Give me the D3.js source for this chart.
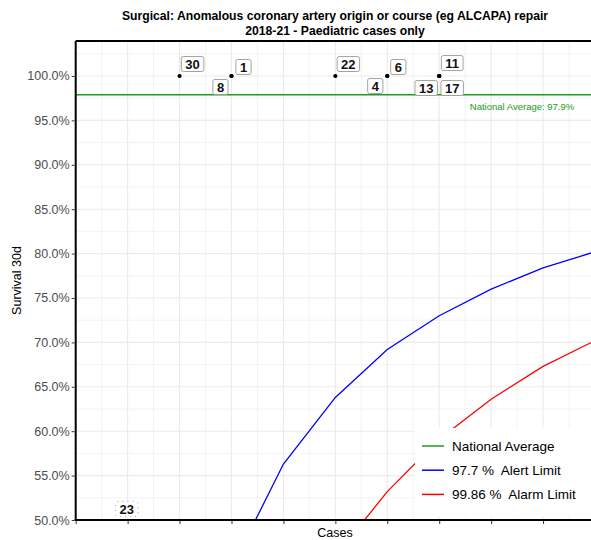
<!DOCTYPE html>
<html><head><meta charset="utf-8">
<script src="https://cdn.jsdelivr.net/npm/d3@7"></script>
<style>body{margin:0;background:#fff;} svg{display:block;font-family:"Liberation Sans",Arial,sans-serif;} text{white-space:pre;}</style>
</head><body>
<div id="chart"></div>
<script>
// ---- data ----
const hospitalLabels = ["30","1","8","22","6","4","11","13","17","23"];
const hospitalCases  = [2,3,3,5,6,6,7,7,7,1];
const hospitalSurvival = [100,100,100,100,100,100,100,100,100,0];
// repel offsets of each label from its point (pixels)
const labelNudge = [[13,-12],[12,-9],[-11,11],[13,-12],[11,-9],[-12,10],[13,-13],[-13,12],[13,12],[-1,0]];

const limitCases = [3,4,5,6,7,8,9,10];
const alertLimit = [44.6,56.3,63.8,69.2,73.0,76.0,78.4,80.2];
const alarmCases = [5,6,7,8,9,10];
const alarmLimit = [45.9,53.2,59.1,63.6,67.3,70.2];
const nationalAverage = 97.9;

const yTicks = [50,55,60,65,70,75,80,85,90,95,100];
const xTicks = [0,1,2,3,4,5,6,7,8,9,10];
const legendLabels = ["National Average","97.7 %  Alert Limit","99.86 %  Alarm Limit"];
const legendColors = ["#229922","blue","red"];
const titleLines = ["Surgical: Anomalous coronary artery origin or course (eg ALCAPA) repair","2018-21 - Paediatric cases only"];

// ---- layout ----
const W = 591, H = 540;
const m = {left:75.7, top:41, right:595, bottom:520};
const svg = d3.select("#chart").append("svg").attr("width",W).attr("height",H);

const x = d3.scaleLinear().domain([0,10]).range([m.left,m.right]);
const y = d3.scaleLinear().domain([50,103.94]).range([m.bottom,m.top]);

const defs = svg.append("defs");
defs.append("clipPath").attr("id","clip").append("rect")
  .attr("x",m.left).attr("y",m.top).attr("width",m.right-m.left).attr("height",m.bottom-m.top);

// grid
const grid = svg.append("g");
const minorY = d3.range(52.5,104,5);
const minorX = d3.range(0.5,10,1);
grid.selectAll(".gy").data(minorY.concat(yTicks)).enter().append("line")
  .attr("x1",m.left).attr("x2",m.right).attr("y1",d=>y(d)).attr("y2",d=>y(d))
  .attr("stroke","#ebebeb").attr("stroke-width",d=>d%5===0?1.1:0.6);
grid.selectAll(".gx").data(minorX.concat(xTicks)).enter().append("line")
  .attr("y1",m.top).attr("y2",m.bottom).attr("x1",d=>x(d)).attr("x2",d=>x(d))
  .attr("stroke","#ebebeb").attr("stroke-width",d=>Number.isInteger(d)?1.1:0.6);

const plot = svg.append("g").attr("clip-path","url(#clip)");

// national average
plot.append("line").attr("x1",m.left).attr("x2",m.right)
  .attr("y1",y(nationalAverage)).attr("y2",y(nationalAverage))
  .attr("stroke","#229922").attr("stroke-width",1.5);

const line = d3.line().x(d=>x(d[0])).y(d=>y(d[1]));
plot.append("path").datum(limitCases.map((c,i)=>[c,alertLimit[i]]))
  .attr("d",line).attr("fill","none").attr("stroke","blue").attr("stroke-width",1.3);
plot.append("path").datum(alarmCases.map((c,i)=>[c,alarmLimit[i]]))
  .attr("d",line).attr("fill","none").attr("stroke","red").attr("stroke-width",1.3);

svg.append("text").attr("x",x(9.6)).attr("y",y(nationalAverage)+15)
  .attr("text-anchor","end").attr("font-size",9.5).attr("fill","#229922")
  .text("National Average: "+nationalAverage+"%");

// points
plot.selectAll(".pt").data(hospitalCases.map((c,i)=>[c,hospitalSurvival[i]]))
  .enter().append("circle").attr("cx",d=>x(d[0])).attr("cy",d=>y(d[1])).attr("r",2.1).attr("fill","#000");

// labels
const clampY = v => Math.min(Math.max(v, m.top+10), m.bottom-11);
hospitalLabels.forEach((lab,i)=>{
  const px = x(hospitalCases[i]) + labelNudge[i][0];
  const py = clampY(y(hospitalSurvival[i]) + labelNudge[i][1]);
  const g = svg.append("g").attr("transform",`translate(${px},${py})`);
  const t = g.append("text").attr("text-anchor","middle").attr("dy","0.36em")
    .attr("font-size",13).attr("font-weight","bold").attr("fill","#111").text(lab);
  const bw = t.node().getComputedTextLength()+8;
  g.insert("rect","text").attr("x",-bw/2).attr("y",-7.5).attr("width",bw).attr("height",15)
    .attr("rx",2).attr("fill","#fff").attr("stroke",hospitalSurvival[i]<50?"#999":"#999")
    .attr("stroke-width",0.9).attr("stroke-dasharray",hospitalSurvival[i]<50?"1,4":null);
});

// panel border & axes
svg.append("line").attr("x1",m.left).attr("x2",m.right).attr("y1",m.top).attr("y2",m.top)
  .attr("stroke","#000").attr("stroke-width",2);
svg.append("line").attr("x1",m.left).attr("x2",m.left).attr("y1",m.top).attr("y2",m.bottom)
  .attr("stroke","#000").attr("stroke-width",2);
svg.append("line").attr("x1",m.left-1).attr("x2",m.right).attr("y1",m.bottom).attr("y2",m.bottom)
  .attr("stroke","#000").attr("stroke-width",2);

const yAxis = svg.append("g").attr("transform",`translate(${m.left-1},0)`)
  .call(d3.axisLeft(y).tickValues(yTicks).tickSize(3).tickPadding(2).tickFormat(d=>d.toFixed(1)+"%"));
yAxis.select(".domain").remove();
yAxis.selectAll("text").attr("font-size",12.5).attr("fill","#4d4d4d").attr("font-family","Liberation Sans, Arial, sans-serif");
yAxis.selectAll("line").attr("stroke","#333");

const xAxis = svg.append("g").attr("transform",`translate(0,${m.bottom+1})`)
  .call(d3.axisBottom(x).tickValues(xTicks).tickSize(3).tickFormat(""));
xAxis.select(".domain").remove();
xAxis.selectAll("line").attr("stroke","#333");

// titles
svg.append("text").attr("x",335).attr("y",537).attr("text-anchor","middle").attr("font-size",12.5).text("Cases");
svg.append("text").attr("transform",`translate(21,${(m.top+m.bottom)/2}) rotate(-90)`)
  .attr("text-anchor","middle").attr("font-size",12.5).text("Survival 30d");
titleLines.forEach((t,i)=>svg.append("text").attr("x",335).attr("y",20+i*15)
  .attr("text-anchor","middle").attr("font-size",12.2).attr("font-weight","bold").text(t));

// legend
const lg = svg.append("g");
lg.append("rect").attr("x",415).attr("y",428).attr("width",176).attr("height",88).attr("fill","#fff");
legendLabels.forEach((l,i)=>{
  const cy = 446 + i*24.2;
  lg.append("line").attr("x1",422).attr("x2",444).attr("y1",cy).attr("y2",cy)
    .attr("stroke",legendColors[i]).attr("stroke-width",1.5);
  lg.append("text").attr("x",452).attr("y",cy).attr("dy","0.35em").attr("font-size",13.5)
    .attr("xml:space","preserve").text(l);
});
</script>
</body></html>
